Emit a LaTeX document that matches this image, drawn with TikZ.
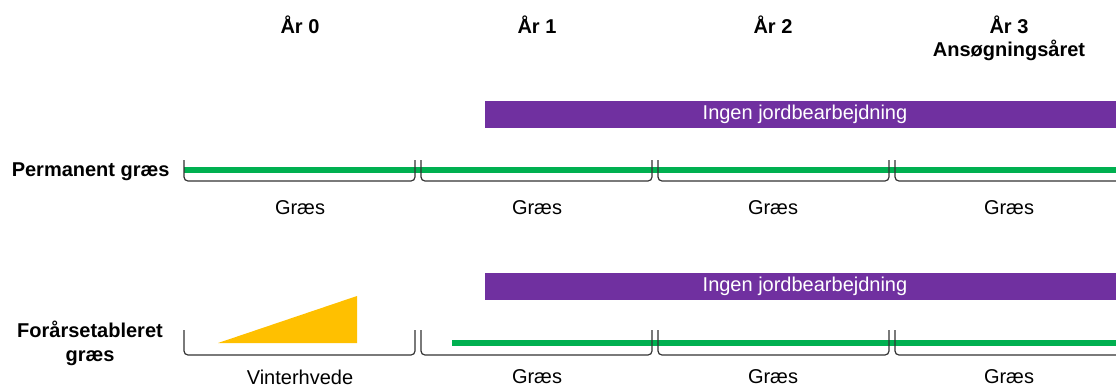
\documentclass[tikz,border=0pt]{standalone}
\usepackage{fontspec}
\setmainfont{Liberation Sans}
\definecolor{grasgreen}{HTML}{00B050}
\definecolor{tillpurple}{HTML}{7030A0}
\definecolor{wheatorange}{HTML}{FFC000}
\tikzset{
  bracket/.style = {draw=black!80, line width=0.6pt, rounded corners=2pt},
  grasline/.style = {draw=grasgreen, line width=3pt},
  tillbar/.style = {fill=tillpurple},
  yearlabel/.style = {font=\fontsize{10}{12}\selectfont\bfseries},
  croplabel/.style = {font=\fontsize{10}{12}\selectfont},
}
\begin{document}
\begin{tikzpicture}[x=0.5pt, y=-0.5pt]
      \useasboundingbox (0, 0) rectangle (1116, 387);
      % headers
      \node [yearlabel] (yr0) at (300, 25) {År 0};
      \node [yearlabel] (yr1) at (537, 25) {År 1};
      \node [yearlabel] (yr2) at (773, 25) {År 2};
      \node [yearlabel] (yr3) at (1009, 25) {År 3};
      \node [yearlabel] (ansog) at (1009, 50) {Ansøgningsåret};
      % permanent grass
      \node [yearlabel, anchor=east, inner sep=0pt] (perm) at (170, 172) {Permanent græs};
      \fill [tillbar] (485, 101) rectangle (1116, 128);
      \node [croplabel, text=white] (till1) at (805, 114.5) {Ingen jordbearbejdning};
      \draw [grasline] (184, 170) -- (1116, 170);
      \draw [bracket] (184, 160) |- (415, 181) -- (415, 160);
      \draw [bracket] (421, 160) |- (652, 181) -- (652, 160);
      \draw [bracket] (658, 160) |- (889, 181) -- (889, 160);
      \draw [bracket] (895, 160) |- (1130, 181);
      \node [croplabel] (gr0) at (300, 208) {Græs};
      \node [croplabel] (gr1) at (537, 208) {Græs};
      \node [croplabel] (gr2) at (773, 208) {Græs};
      \node [croplabel] (gr3) at (1009, 208) {Græs};
      % spring sown grass
      \node [yearlabel, align=center, inner sep=0pt] (spring) at (90, 343) {Forårsetableret\\græs};
      \fill [tillbar] (485, 273) rectangle (1116, 300);
      \node [croplabel, text=white] (till2) at (805, 286.5) {Ingen jordbearbejdning};
      \fill [wheatorange] (218, 343) -- (357, 343) -- (357, 296) -- cycle;
      \draw [grasline] (452, 343) -- (1116, 343);
      \draw [bracket] (184, 330) |- (415, 355) -- (415, 330);
      \draw [bracket] (421, 330) |- (652, 355) -- (652, 330);
      \draw [bracket] (658, 330) |- (889, 355) -- (889, 330);
      \draw [bracket] (895, 330) |- (1130, 355);
      \node [croplabel] (wheat) at (300, 377) {Vinterhvede};
      \node [croplabel] (gr4) at (537, 377) {Græs};
      \node [croplabel] (gr5) at (773, 377) {Græs};
      \node [croplabel] (gr6) at (1009, 377) {Græs};
\end{tikzpicture}
\end{document}
